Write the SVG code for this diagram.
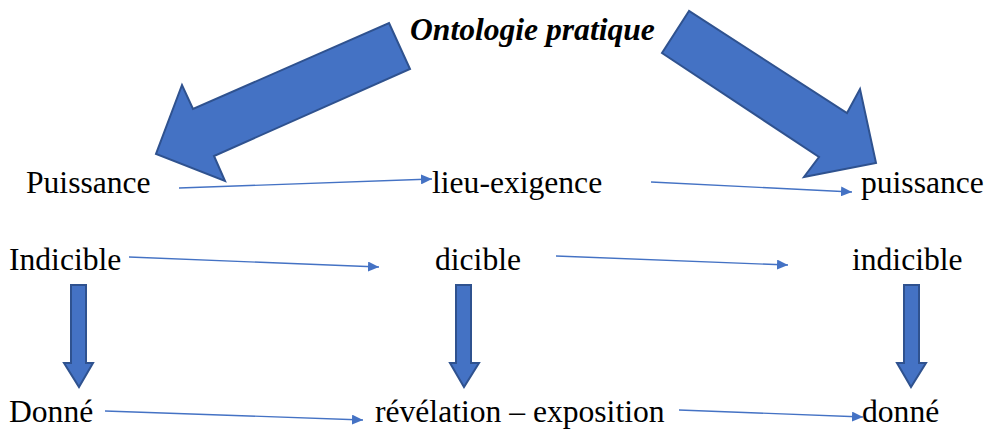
<svg xmlns="http://www.w3.org/2000/svg" width="987" height="430" viewBox="0 0 987 430">
<defs>
<style>
text{font-family:"Liberation Serif","Times New Roman",serif;font-size:31.6px;fill:#000}
.title{font-weight:bold;font-style:italic}
.block{fill:#4472C4;stroke:#2F528F;stroke-width:2;stroke-linejoin:miter}
.thin{stroke:#4472C4;stroke-width:1.3;fill:none;marker-end:url(#ah)}
</style>
<marker id="ah" viewBox="0 0 10 10" refX="10" refY="5" markerWidth="11" markerHeight="10" markerUnits="userSpaceOnUse" orient="auto" preserveAspectRatio="none">
<path d="M0,0 L10,5 L0,10 Z" fill="#4472C4"/>
</marker>
</defs>
<rect width="987" height="430" fill="#fff"/>
<g id="title"><text class="title" x="410" y="40">Ontologie pratique</text></g>
<g id="big-arrows">
<polygon class="block" points="389,23 410,69 214,156 225,181 156,154 182,85 193,109"/>
<polygon class="block" points="689,11 662,53 819,157 804,177 876,163 860,89 847,113"/>
</g>
<g id="n-puissance1"><text x="26" y="193">Puissance</text></g>
<g id="n-lieu"><text x="432" y="193">lieu-exigence</text></g>
<g id="n-puissance2"><text x="861" y="193">puissance</text></g>
<g id="n-indicible1"><text x="9" y="270">Indicible</text></g>
<g id="n-dicible"><text x="435" y="270">dicible</text></g>
<g id="n-indicible2"><text x="852" y="270">indicible</text></g>
<g id="n-donne1"><text x="9" y="422">Donné</text></g>
<g id="n-revelation"><text x="375" y="422">révélation – exposition</text></g>
<g id="n-donne2"><text x="862" y="422">donné</text></g>
<g id="connectors">
<line class="thin" x1="179" y1="188" x2="432" y2="179"/>
<line class="thin" x1="651" y1="182" x2="852" y2="192"/>
<line class="thin" x1="129" y1="257" x2="379" y2="267"/>
<line class="thin" x1="556" y1="256" x2="788" y2="265"/>
<line class="thin" x1="105" y1="411" x2="363" y2="420"/>
<line class="thin" x1="679" y1="410" x2="863" y2="417"/>
<polygon class="block" points="71,285 86,285 86,363 93,363 79,387 64,363 71,363"/>
<polygon class="block" points="456,285 471,285 471,363 479,363 464,387 450,363 456,363"/>
<polygon class="block" points="904,285 919,285 919,363 926,363 911,387 897,363 904,363"/>
</g>
</svg>
